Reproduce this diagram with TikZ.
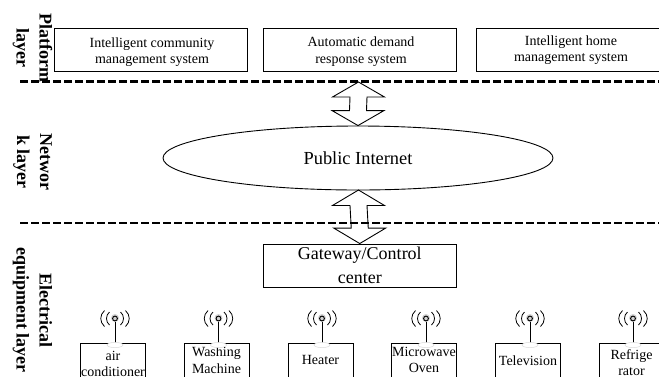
\documentclass[tikz,border=0pt]{standalone}
\usepackage{fontspec}
\setmainfont{Liberation Serif}
\usetikzlibrary{shapes.geometric,calc}
\tikzset{
  box/.style={draw=black,line width=0.9pt,fill=white,inner sep=0pt,align=center,text width=180pt,font=\fontsize{14}{17}\selectfont},
  bigbox/.style={box,font=\fontsize{18}{24}\selectfont},
  devbox/.style={draw=black,line width=0.9pt,anchor=north,minimum width=65pt,minimum height=60pt,inner sep=0pt},
  devlabel/.style={align=center,inner sep=0pt,font=\fontsize{14}{16.5}\selectfont},
  layerlabel/.style={rotate=-90,align=center,inner sep=0pt,font=\fontsize{18}{23}\selectfont\bfseries},
  cloud/.style={draw=black,line width=0.9pt,ellipse,inner sep=0pt,minimum width=390pt,minimum height=64pt,font=\fontsize{18.4}{22}\selectfont},
  divider/.style={line width=2.4pt,dash pattern=on 8pt off 3pt},
  bigarrow/.style={draw=black,line width=0.9pt},
  antenna/.pic={
    \fill[gray!35] (0,-25) circle[radius=4pt];
    \draw[line width=0.9pt,draw=black] (0,-21) -- (0,0);
    \draw[line width=0.9pt,draw=black] (0,-24.5) circle[radius=2.4pt];
    \draw[line width=0.8pt,draw=black]
      (-5.5,-31) .. controls (-9.5,-28) and (-9.5,-21) .. (-5.5,-18)
      (5.5,-31) .. controls (9.5,-28) and (9.5,-21) .. (5.5,-18)
      (-10.5,-32.5) .. controls (-15.5,-28) and (-15.5,-21) .. (-10.5,-16.5)
      (10.5,-32.5) .. controls (15.5,-28) and (15.5,-21) .. (10.5,-16.5);
    \draw[gray!30,fill=white,line width=0.5pt] (0,2) ellipse[x radius=8pt,y radius=2.6pt];
  }
}
\newcommand{\dblarrow}[4]{% top tip, bottom tip, upper wing offset, lower wing offset
  \path[bigarrow] let \p1=(#1),\p2=(#2) in
    (\x1,\y1) -- (\x1+26pt,\y1-#3) -- (\x1+8.5pt,\y1-#3) -- (\x2+8.5pt,\y2+#4) -- (\x2+26pt,\y2+#4) --
    (\x2,\y2) -- (\x2-26pt,\y2+#4) -- (\x2-8.5pt,\y2+#4) -- (\x1-8.5pt,\y1-#3) -- (\x1-26pt,\y1-#3) -- cycle;}
\newcommand{\device}[5]{% name, antenna x, box centre x, label y, text
  \node[devbox] (#1) at (#3,343) {};
  \node[devlabel] (#1t) at (#3,#4) {#5};
  \pic at (#2,343) {antenna};}
\begin{document}
\begin{tikzpicture}[x=1pt,y=-1pt]
\useasboundingbox (0,0) rectangle (659,376);
\clip (0,0) rectangle (659,376);
\fill[white] (0,0) rectangle (659,376);
% dividers
\coordinate (d1l) at (20,81.5); \coordinate (d1r) at (659,81.5);
\coordinate (d2l) at (20,223); \coordinate (d2r) at (659,223);
\coordinate (t1) at (358.5,82);
\draw[divider] (d1l) -- (d1r);
\draw[divider] (d2l) -- (d2r);
% platform layer
\node[box,minimum width=193pt,minimum height=43pt] (ic) at (150.5,49.5) {};
\node[devlabel] (ict) at (152,52) {Intelligent community\\management system};
\node[box,minimum width=192.5pt,minimum height=43pt] (ad) at (359.75,49.5) {};
\node[devlabel] (adt) at (361,51.5) {Automatic demand\\response system};
\node[box,minimum width=200pt,minimum height=43pt,anchor=west] (ih) at (475.5,49.5) {};
\node[devlabel] (iht) at (571,50) {Intelligent home\\management system};
% network layer
\node[cloud] (pi) at (358,158) {Public Internet};
% gateway
\node[bigbox,minimum width=192.5pt,minimum height=43pt] (gw) at (359.75,265.5) {Gateway/Control\\center};
\coordinate (pib) at (358.5,190);
% double arrows
\dblarrow{t1}{pi.north}{15pt}{15pt}
\dblarrow{pib}{gw.north}{15.5pt}{15.5pt}
% devices
\device{ac}{115}{113}{364}{air\\conditioner}
\device{wm}{218.5}{216.5}{360}{Washing\\Machine}
\device{ht}{322}{320.5}{360}{Heater}
\device{mo}{426}{424}{360}{Microwave\\Oven}
\device{tv}{530}{528}{361}{Television}
\device{rf}{633}{631.5}{362.5}{Refrige\\rator}
% layer labels
\node[layerlabel] (l1) at (32.5,48) {Platform\\layer};
\node[layerlabel] (l2) at (32.5,162) {Networ\\k layer};
\node[layerlabel] (l3) at (32.5,310) {Electrical\\equipment layer};
\end{tikzpicture}
\end{document}
